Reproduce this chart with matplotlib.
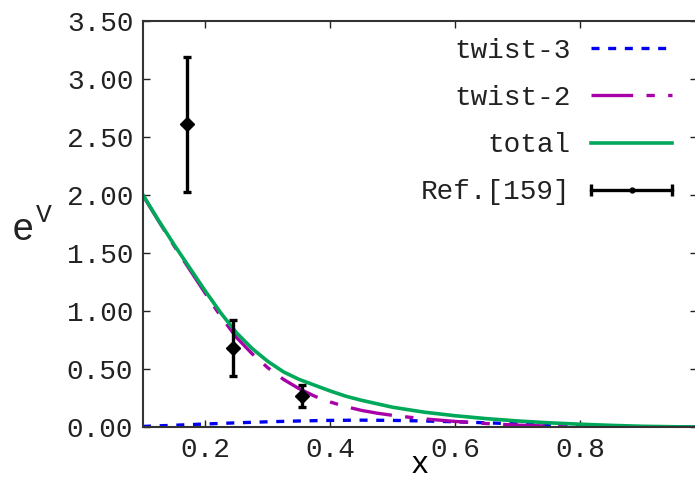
import matplotlib
matplotlib.use("Agg")
import matplotlib.pyplot as plt
import numpy as np
from matplotlib.lines import Line2D
from matplotlib.legend_handler import HandlerLine2D
from matplotlib.ticker import FormatStrFormatter

# ---- data ----
x_total = [0.10, 0.125, 0.15, 0.175, 0.20, 0.225, 0.25, 0.275, 0.30, 0.325, 0.35,
           0.375, 0.40, 0.425, 0.45, 0.475, 0.50, 0.55, 0.60, 0.65, 0.70, 0.75,
           0.80, 0.85, 0.90, 0.95, 0.987]
total = [2.00, 1.78, 1.57, 1.37, 1.17, 0.98, 0.81, 0.675, 0.565, 0.475, 0.41,
         0.36, 0.31, 0.265, 0.23, 0.20, 0.17, 0.128, 0.097, 0.072, 0.052, 0.036,
         0.024, 0.014, 0.006, 0.002, 0.0]

x_tw2 = [0.10, 0.125, 0.15, 0.175, 0.20, 0.225, 0.25, 0.275, 0.30, 0.325, 0.35,
         0.375, 0.40, 0.425, 0.45, 0.475, 0.50, 0.55, 0.60, 0.65, 0.70, 0.75,
         0.80, 0.85, 0.90, 0.95, 0.987]
twist2 = [1.995, 1.775, 1.56, 1.355, 1.15, 0.95, 0.77, 0.63, 0.51, 0.41, 0.33,
          0.265, 0.215, 0.175, 0.143, 0.119, 0.10, 0.07, 0.048, 0.03, 0.016, 0.008,
          0.003, 0.001, 0.0, 0.0, 0.0]

x_tw3 = [0.10, 0.15, 0.20, 0.25, 0.30, 0.35, 0.40, 0.45, 0.50, 0.55, 0.60, 0.65,
         0.70, 0.75, 0.80, 0.85, 0.90, 0.95, 0.987]
twist3 = [0.005, 0.015, 0.026, 0.036, 0.045, 0.052, 0.057, 0.059, 0.057, 0.052,
          0.045, 0.036, 0.027, 0.018, 0.011, 0.005, 0.002, 0.0, 0.0]

ref_x = [0.171, 0.244, 0.355]
ref_y = [2.61, 0.68, 0.265]
ref_lo = [2.03, 0.44, 0.175]
ref_hi = [3.19, 0.92, 0.36]

yticks = [0.0, 0.5, 1.0, 1.5, 2.0, 2.5, 3.0, 3.5]
xticks = [0.2, 0.4, 0.6, 0.8]

FONT = "Liberation Mono"
W, H = 695, 482
fig = plt.figure(figsize=(W / 100, H / 100), dpi=100)
ax = fig.add_axes([143 / W, (H - 427) / H, (697 - 143) / W, (427 - 21) / H])

c_blue = "#0000ee"
c_mag = "#a800a8"
c_green = "#00a85a"

l3, = ax.plot(x_tw3, twist3, color=c_blue, lw=2.4, dashes=(2.4, 2.6),
              dash_capstyle="butt")
l2, = ax.plot(x_tw2, twist2, color=c_mag, lw=2.4, dashes=(12.5, 4.0, 2.5, 4.0),
              dash_capstyle="butt")
lt, = ax.plot(x_total, total, color=c_green, lw=2.6)

yerr = [np.array(ref_y) - np.array(ref_lo), np.array(ref_hi) - np.array(ref_y)]
ax.errorbar(ref_x, ref_y, yerr=yerr, fmt="D", color="black", ms=7,
            elinewidth=2.4, capsize=2.6, capthick=2.4, zorder=5)

ax.set_xlim(0.1, 0.987)
ax.set_ylim(0.0, 3.5)
ax.set_xticks(xticks)
ax.set_yticks(yticks)
ax.xaxis.set_major_formatter(FormatStrFormatter("%.1f"))
ax.yaxis.set_major_formatter(FormatStrFormatter("%.2f"))
ax.tick_params(direction="in", length=5, width=1.0, color="#222222",
               top=True, right=True, labelsize=20, pad=7)
for lab in ax.get_xticklabels() + ax.get_yticklabels():
    lab.set_family(FONT)
    lab.set_color("#222222")
for s in ax.spines.values():
    s.set_linewidth(1.5)
    s.set_color("#333333")

ax.set_xlabel("x", fontfamily=FONT, fontsize=22, labelpad=-9)
fig.text(12 / W, (H - 240) / H, "e", fontfamily=FONT, fontsize=27,
         ha="left", va="baseline", color="#222222")
fig.text(36 / W, (H - 222) / H, "V", fontfamily=FONT, fontsize=19,
         ha="left", va="baseline", color="#222222")

# legend
err_line = Line2D([], [], color="black", lw=2.4, marker="|", ms=9, mew=2.4)
err_dot = Line2D([], [], color="black", ls="", marker="o", ms=3.5)
leg = ax.legend([l3, l2, lt, (err_line, err_dot)],
                ["twist-3", "twist-2", "total", "Ref.[159]"],
                handler_map={err_line: HandlerLine2D(numpoints=2, marker_pad=0)},
                loc="upper right", bbox_to_anchor=(672 / W, (H - 38) / H),
                bbox_transform=fig.transFigure, markerfirst=False,
                frameon=False, prop={"family": FONT, "size": 20},
                handlelength=2.9, handletextpad=0.75, labelspacing=0.76,
                borderpad=0, borderaxespad=0)
for t in leg.get_texts():
    t.set_color("#222222")

fig.savefig("out.png", dpi=100)
